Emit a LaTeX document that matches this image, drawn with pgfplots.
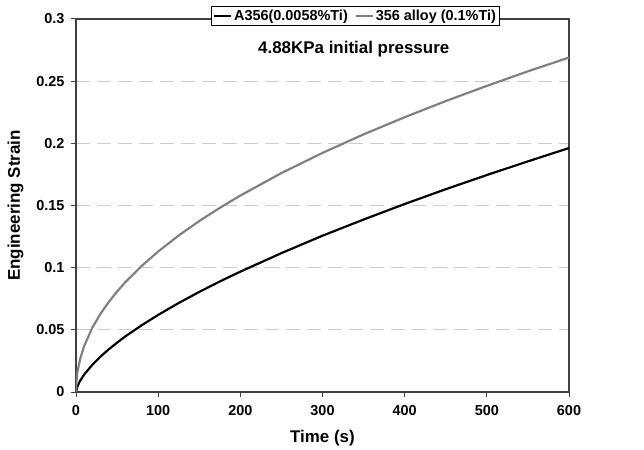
\documentclass[border=0pt]{standalone}
\usepackage{pgfplots}
\pgfplotsset{compat=1.18}
\usepackage{fontspec}
\setmainfont{Liberation Sans}
\begin{document}
\begin{tikzpicture}
\begin{axis}[
  width=493bp, height=373bp, scale only axis,
  xmin=0, xmax=600, ymin=0, ymax=0.3,
  xtick={0,100,...,600},
  ytick={0,0.05,0.1,0.15,0.2,0.25,0.3},
  yticklabels={0,0.05,0.1,0.15,0.2,0.25,0.3},
  tick align=outside,
  xtick pos=bottom, ytick pos=left,
  major tick length=5bp,
  axis line style={black!75, line width=1.3pt},
  tick style={black!75, line width=1pt},
  ymajorgrids,
  grid style={dashed, black!20, line width=0.8pt, dash pattern=on 14bp off 7bp},
  /pgf/number format/assume math mode=true,
  ticklabel style={font=\fontsize{14.5}{16}\selectfont\bfseries},
  xticklabel style={yshift=-5bp},
  yticklabel style={xshift=-3bp},
  xlabel={Time (s)}, ylabel={Engineering Strain},
  label style={font=\fontsize{17}{19}\selectfont\bfseries},
  xlabel style={yshift=-8bp},
  ylabel style={yshift=6bp},
  legend columns=2,
  legend style={at={(rel axis cs:0.567,1.008)}, anchor=center, draw=black, line width=0.8pt,
    font=\fontsize{14.5}{16}\selectfont\bfseries, inner sep=1.5pt,
    /tikz/every even column/.append style={column sep=5bp}},
  legend image post style={line width=2pt},
]
\addplot[black, line width=2.2pt] coordinates {
(0,0) (2,0.0050) (5,0.0090) (10,0.0141) (20,0.0220) (30,0.0286) (40,0.0344) (50,0.0397) (60,0.0447) (80,0.0537) (100,0.0620) (125,0.0716) (150,0.0805) (175,0.0889) (200,0.0968) (250,0.1117) (300,0.1257) (350,0.1387) (400,0.1512) (450,0.1631) (500,0.1745) (550,0.1855) (600,0.1962)
};
\addlegendentry{A356(0.0058\%Ti)}
\addplot[black!50, line width=2.2pt] coordinates {
(0,0) (1,0.0122) (2,0.0170) (5,0.0265) (10,0.0371) (20,0.0519) (30,0.0631) (40,0.0725) (50,0.0808) (60,0.0883) (80,0.1014) (100,0.1130) (125,0.1259) (150,0.1375) (175,0.1481) (200,0.1580) (250,0.1761) (300,0.1923) (350,0.2072) (400,0.2210) (450,0.2340) (500,0.2462) (550,0.2579) (600,0.2690)
};
\addlegendentry{356 alloy (0.1\%Ti)}
\node[font=\fontsize{17}{19}\selectfont\bfseries] at (axis cs:338,0.276) {4.88KPa initial pressure};
\end{axis}
\path ([shift={(-76bp,-57bp)}]current axis.south west) rectangle ([shift={(75bp,19bp)}]current axis.north east);
\end{tikzpicture}
\end{document}
